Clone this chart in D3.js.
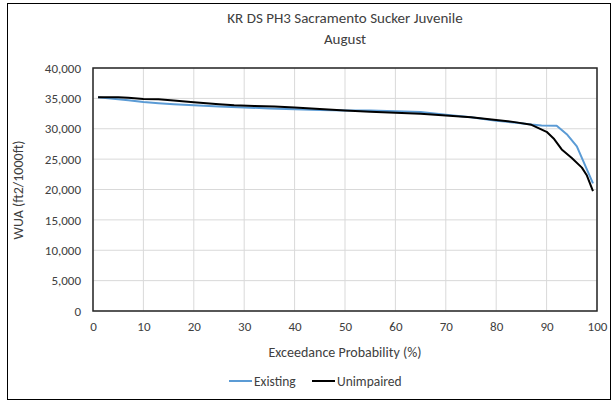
<!DOCTYPE html>
<html><head><meta charset="utf-8">
<script src="https://cdn.jsdelivr.net/npm/d3@7"></script>
<style>body{margin:0;background:#fff}svg{display:block}text{font-family:Carlito,Calibri,Lato,"Open Sans",sans-serif;fill:#404040}</style>
</head><body><svg id="c" width="613" height="402"></svg>
<script>
const titleLines = ["KR DS PH3 Sacramento Sucker Juvenile", "August"];
const xLabel = "Exceedance Probability (%)";
const yLabel = "WUA (ft2/1000ft)";
const seriesNames = ["Existing", "Unimpaired"];
const seriesColors = ["#5b9bd5", "#000000"];
const xTicks = [0,10,20,30,40,50,60,70,80,90,100];
const yTicks = [0,5000,10000,15000,20000,25000,30000,35000,40000];

const existingX = [1,3,5,7,10,13,16,20,25,30,35,40,45,50,55,60,65,70,75,80,84,87,89,92,94,96,99.2];
const existingY = [35200,35000,34850,34700,34400,34200,34050,33850,33650,33500,33350,33200,33100,33000,33000,32900,32750,32300,31900,31300,31000,30700,30550,30500,29100,27100,21000];
const unimpairedX = [1,3,5,7,10,13,16,20,25,28,32,36,40,45,50,55,60,65,70,75,80,84,87,90,91.5,93,95,97,98,99.2];
const unimpairedY = [35200,35200,35200,35100,34900,34850,34650,34350,34050,33850,33750,33650,33500,33250,33000,32800,32650,32450,32200,31900,31450,31050,30650,29500,28300,26600,25200,23600,22300,19750];

const svg = d3.select("#c");
// outer frame
svg.append("rect").attr("x",7.5).attr("y",3.5).attr("width",603).attr("height",396)
  .attr("fill","none").attr("stroke","#000").attr("stroke-width",1);

const L=93, R=597, T=68, B=311;
const x = d3.scaleLinear().domain([0,100]).range([L,R]);
const y = d3.scaleLinear().domain([0,40000]).range([B,T]);

// grid
svg.append("g").selectAll("line").data(yTicks).join("line")
  .attr("x1",L).attr("x2",R).attr("y1",d=>y(d)).attr("y2",d=>y(d))
  .attr("stroke","#d9d9d9").attr("stroke-width",1);
svg.append("g").selectAll("line").data(xTicks).join("line")
  .attr("y1",T).attr("y2",B).attr("x1",d=>x(d)).attr("x2",d=>x(d))
  .attr("stroke","#d9d9d9").attr("stroke-width",1);

// axes
const fmt = d3.format(",");
const ya = svg.append("g").attr("transform",`translate(${L},0)`)
  .call(d3.axisLeft(y).tickValues(yTicks).tickFormat(fmt).tickSize(0).tickPadding(12));
ya.select(".domain").remove();
ya.selectAll("text").style("font-size","13px").attr("fill","#404040");
const xa = svg.append("g").attr("transform",`translate(0,${B})`)
  .call(d3.axisBottom(x).tickValues(xTicks).tickSize(0).tickPadding(11));
xa.select(".domain").remove();
xa.selectAll("text").style("font-size","13px").attr("fill","#404040");

// plot border
svg.append("rect").attr("x",L).attr("y",T).attr("width",R-L).attr("height",B-T)
  .attr("fill","none").attr("stroke","#262626").attr("stroke-width",1.5);

// lines
const line = d3.line().x(d=>x(d[0])).y(d=>y(d[1]));
const series = [
  d3.zip(existingX, existingY),
  d3.zip(unimpairedX, unimpairedY)
];
series.forEach((s,i)=>{
  svg.append("path").datum(s).attr("d",line).attr("fill","none")
    .attr("stroke",seriesColors[i]).attr("stroke-width",2).attr("stroke-linejoin","round");
});

// titles
svg.selectAll(".title").data(titleLines).join("text").attr("class","title")
  .attr("x",345).attr("y",(d,i)=>23+i*21).attr("text-anchor","middle")
  .style("font-size","15px").text(d=>d);
svg.append("text").attr("x",345).attr("y",357).attr("text-anchor","middle")
  .style("font-size","14px").text(xLabel);
svg.append("text").attr("transform","translate(23,190) rotate(-90)").attr("text-anchor","middle")
  .style("font-size","14px").text(yLabel);

// legend
const legX = [229, 312];
seriesNames.forEach((n,i)=>{
  svg.append("line").attr("x1",legX[i]).attr("x2",legX[i]+23).attr("y1",381).attr("y2",381)
    .attr("stroke",seriesColors[i]).attr("stroke-width",2);
  svg.append("text").attr("x",legX[i]+25).attr("y",385.5).style("font-size","13.5px").text(n);
});
</script></body></html>
